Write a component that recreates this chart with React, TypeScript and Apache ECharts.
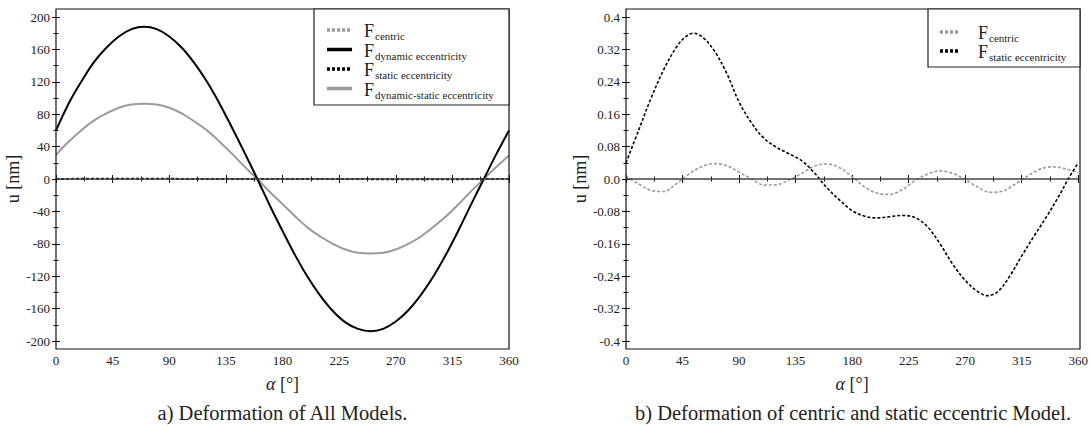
import React, { useEffect, useRef } from "react";
import * as echarts from "echarts";

// ---------- data ----------
const ANGLES = [0, 10, 20, 30, 40, 50, 60, 70, 80, 90, 100, 110, 120, 130, 140, 150, 160, 170, 180,
  190, 200, 210, 220, 230, 240, 250, 260, 270, 280, 290, 300, 310, 320, 330, 340, 350, 360];

const X_TICKS = { min: 0, max: 360, interval: 45 };
const Y_LEFT = { min: -200, max: 200, interval: 40 };
const Y_RIGHT = { min: -0.4, max: 0.4, interval: 0.08 };

const F_DYNAMIC = [60, 93, 120, 144, 162, 176, 185, 188, 185, 176, 162, 143, 120, 93, 63, 32, 0,
  -33, -64, -94, -121, -144, -163, -177, -185, -188, -185, -176, -162, -143, -120, -93, -63, -31, 0, 31, 60];

const F_DYN_STATIC = [30, 46, 60, 72, 81, 88, 92, 93, 92, 88, 81, 71, 60, 46, 31, 15, 0,
  -16, -31, -46, -60, -71, -80, -87, -91, -92, -91, -87, -80, -71, -59, -46, -31, -15, 0, 15, 29];

// static eccentricity has its own angles (extra samples around the extrema)
const STATIC_ANGLES = [0, 10, 20, 30, 40, 47, 54, 61, 70, 80, 90, 100, 110, 120, 130, 140, 150, 160,
  170, 180, 190, 200, 210, 220, 230, 240, 250, 260, 270, 280, 288, 296, 305, 315, 325, 335, 345, 352, 360];
const F_STATIC = [0.04, 0.12, 0.2, 0.27, 0.325, 0.35, 0.36, 0.35, 0.318, 0.262, 0.19, 0.138, 0.1,
  0.078, 0.062, 0.045, 0.015, -0.022, -0.052, -0.078, -0.092, -0.096, -0.093, -0.09, -0.095, -0.118,
  -0.16, -0.21, -0.25, -0.278, -0.288, -0.278, -0.242, -0.19, -0.14, -0.092, -0.04, 0.0, 0.04];

const F_CENTRIC = [0.007, -0.012, -0.028, -0.031, -0.012, 0.012, 0.03, 0.038, 0.033, 0.017, 0.0,
  -0.015, -0.014, -0.002, 0.014, 0.032, 0.037, 0.028, 0.006, -0.02, -0.035, -0.038, -0.026, -0.004,
  0.012, 0.02, 0.014, -0.001, -0.02, -0.033, -0.03, -0.012, 0.008, 0.025, 0.03, 0.025, 0.016];

const LEFT_LEGEND = ["centric", "dynamic eccentricity", "static eccentricity", "dynamic-static eccentricity"];
const RIGHT_LEGEND = ["centric", "static eccentricity"];
const CAPTIONS = ["a) Deformation of All Models.", "b) Deformation of centric and static eccentric Model."];

// ---------- styles ----------
const SERIF = "Liberation Serif, serif";
const TXT = "#222";
const GRAY = "#9a9a9a";
const DOT: number[] = [3, 2];

const STYLE: Record<string, { color: string; dash: number[] | "solid" }> = {
  "centric": { color: GRAY, dash: DOT },
  "dynamic eccentricity": { color: "#000", dash: "solid" },
  "static eccentricity": { color: "#000", dash: DOT },
  "dynamic-static eccentricity": { color: GRAY, dash: "solid" },
};

const GRIDS = [
  { left: 56, width: 453 },
  { left: 626, width: 454 },
];
const FRAME_TOP = 9;
const FRAME_H = 340;
const PAD = 8; // frame extends beyond outer ticks

function pairs(xs: number[], ys: number[]) {
  return xs.map((a, i) => [a, ys[i]]);
}

function xAxes(g: number) {
  const common = {
    type: "value" as const,
    gridIndex: g,
    ...X_TICKS,
    offset: PAD,
    axisLine: { show: false },
    axisTick: { show: true, inside: true, length: 4, lineStyle: { color: "#111", width: 1 } },
    minorTick: { show: true, splitNumber: 2, length: 2.5, lineStyle: { color: "#111", width: 1 } },
    splitLine: { show: false },
    minorSplitLine: { show: false },
  };
  return [
    {
      ...common,
      position: "bottom",
      axisLabel: { show: true, fontFamily: SERIF, fontSize: 13, color: TXT, margin: 5 },
      name: "{i|α} [°]",
      nameLocation: "middle",
      nameGap: 26,
      nameTextStyle: {
        fontFamily: SERIF, fontSize: 18, color: TXT,
        rich: { i: { fontFamily: SERIF, fontSize: 18, fontStyle: "italic", color: TXT } },
      },
    },
    { ...common, position: "top", axisLabel: { show: false } },
  ];
}

function fmtRight(v: number) {
  const s = String(parseFloat(v.toFixed(2)));
  if (s === "0" || s === "-0") return "0.0";
  return s;
}

function yAxes(g: number, range: { min: number; max: number; interval: number }, fmt: ((v: number) => string) | undefined, nameGap: number) {
  const common = {
    type: "value" as const,
    gridIndex: g,
    ...range,
    axisLine: { show: false },
    axisTick: { show: true, inside: true, length: 4, lineStyle: { color: "#111", width: 1 } },
    minorTick: { show: true, splitNumber: 2, length: 2.5, lineStyle: { color: "#111", width: 1 } },
    splitLine: { show: false },
    minorSplitLine: { show: false },
  };
  return [
    {
      ...common,
      position: "left",
      axisLabel: { show: true, fontFamily: SERIF, fontSize: 13, color: TXT, margin: 6, formatter: fmt },
      name: "u [nm]",
      nameLocation: "middle",
      nameGap,
      nameTextStyle: { fontFamily: SERIF, fontSize: 18, color: TXT },
    },
    { ...common, position: "right", axisLabel: { show: false } },
  ];
}

function lineSeries(name: string, xs: number[], ys: number[], xi: number, yi: number, width: number, extra: any = {}) {
  const st = STYLE[name];
  return {
    type: "line",
    name,
    xAxisIndex: xi,
    yAxisIndex: yi,
    data: pairs(xs, ys),
    showSymbol: false,
    smooth: 0.35,
    lineStyle: { color: st.color, width, type: st.dash },
    z: 3,
    ...extra,
  };
}

function zeroLine() {
  return {
    silent: true,
    symbol: "none",
    label: { show: false },
    lineStyle: { color: "#444", width: 1.5, type: "solid" },
    data: [{ yAxis: 0 }],
  };
}

function legendGraphics(names: string[], box: { x: number; y: number; w: number; h: number },
  rows: number[], lx1: number, lx2: number, tx: number) {
  const els: any[] = [
    {
      type: "rect",
      shape: { x: box.x, y: box.y, width: box.w, height: box.h },
      style: { fill: "#fff", stroke: "#222", lineWidth: 1.2 },
      z: 100,
    },
  ];
  names.forEach((n, i) => {
    const st = STYLE[n];
    const y = rows[i];
    els.push({
      type: "line",
      shape: { x1: lx1, y1: y, x2: lx2, y2: y },
      style: { stroke: st.color, lineWidth: 3.5, lineDash: st.dash === "solid" ? null : [3, 2] },
      z: 101,
    });
    els.push({
      type: "text",
      x: tx,
      y: y + 1,
      style: { text: "F", font: `18px ${SERIF}`, fill: TXT, align: "left", verticalAlign: "middle" },
      z: 101,
    });
    els.push({
      type: "text",
      x: tx + 11,
      y: y + 6,
      style: { text: n, font: `11px ${SERIF}`, fill: TXT, align: "left", verticalAlign: "middle" },
      z: 101,
    });
  });
  return els;
}

export default function App() {
  const ref = useRef<HTMLDivElement>(null);

  useEffect(() => {
    if (!ref.current) return;
    const chart = echarts.init(ref.current, null, { renderer: "svg" });

    const grid = GRIDS.map((g) => ({
      left: g.left,
      width: g.width,
      top: FRAME_TOP + PAD,
      height: FRAME_H - 2 * PAD,
      containLabel: false,
    }));

    const graphic: any[] = [];
    GRIDS.forEach((g) => {
      graphic.push({
        type: "rect",
        shape: { x: g.left, y: FRAME_TOP, width: g.width, height: FRAME_H },
        style: { fill: "none", stroke: "#111", lineWidth: 1.2 },
        z: 50,
        silent: true,
      });
    });
    graphic.push(...legendGraphics(LEFT_LEGEND, { x: 314, y: FRAME_TOP, w: 195, h: 96 },
      [30, 49.5, 69, 88.5], 327, 352, 364));
    graphic.push(...legendGraphics(RIGHT_LEGEND, { x: 928, y: FRAME_TOP, w: 152, h: 58 },
      [32, 51], 940, 958, 978));
    CAPTIONS.forEach((c, i) => {
      const g = GRIDS[i];
      graphic.push({
        type: "text",
        x: g.left + g.width / 2,
        y: 413,
        style: { text: c, font: `20.5px ${SERIF}`, fill: TXT, align: "center", verticalAlign: "middle" },
      });
    });

    const option: any = {
      animation: false,
      backgroundColor: "#fff",
      grid,
      xAxis: [...xAxes(0), ...xAxes(1)],
      yAxis: [...yAxes(0, Y_LEFT, undefined, 33), ...yAxes(1, Y_RIGHT, fmtRight, 37)],
      series: [
        lineSeries("centric", ANGLES, F_CENTRIC, 0, 0, 2, { markLine: zeroLine() }),
        lineSeries("dynamic-static eccentricity", ANGLES, F_DYN_STATIC, 0, 0, 2),
        lineSeries("dynamic eccentricity", ANGLES, F_DYNAMIC, 0, 0, 2),
        lineSeries("static eccentricity", STATIC_ANGLES, F_STATIC, 0, 0, 2),
        lineSeries("centric", ANGLES, F_CENTRIC, 2, 2, 1.6, { markLine: zeroLine() }),
        lineSeries("static eccentricity", STATIC_ANGLES, F_STATIC, 2, 2, 1.6),
      ],
      graphic,
    };

    chart.setOption(option);
    return () => chart.dispose();
  }, []);

  return (
    <div
      ref={ref}
      style={{ position: "absolute", left: 0, top: 0, width: 1091, height: 426 }}
    />
  );
}
